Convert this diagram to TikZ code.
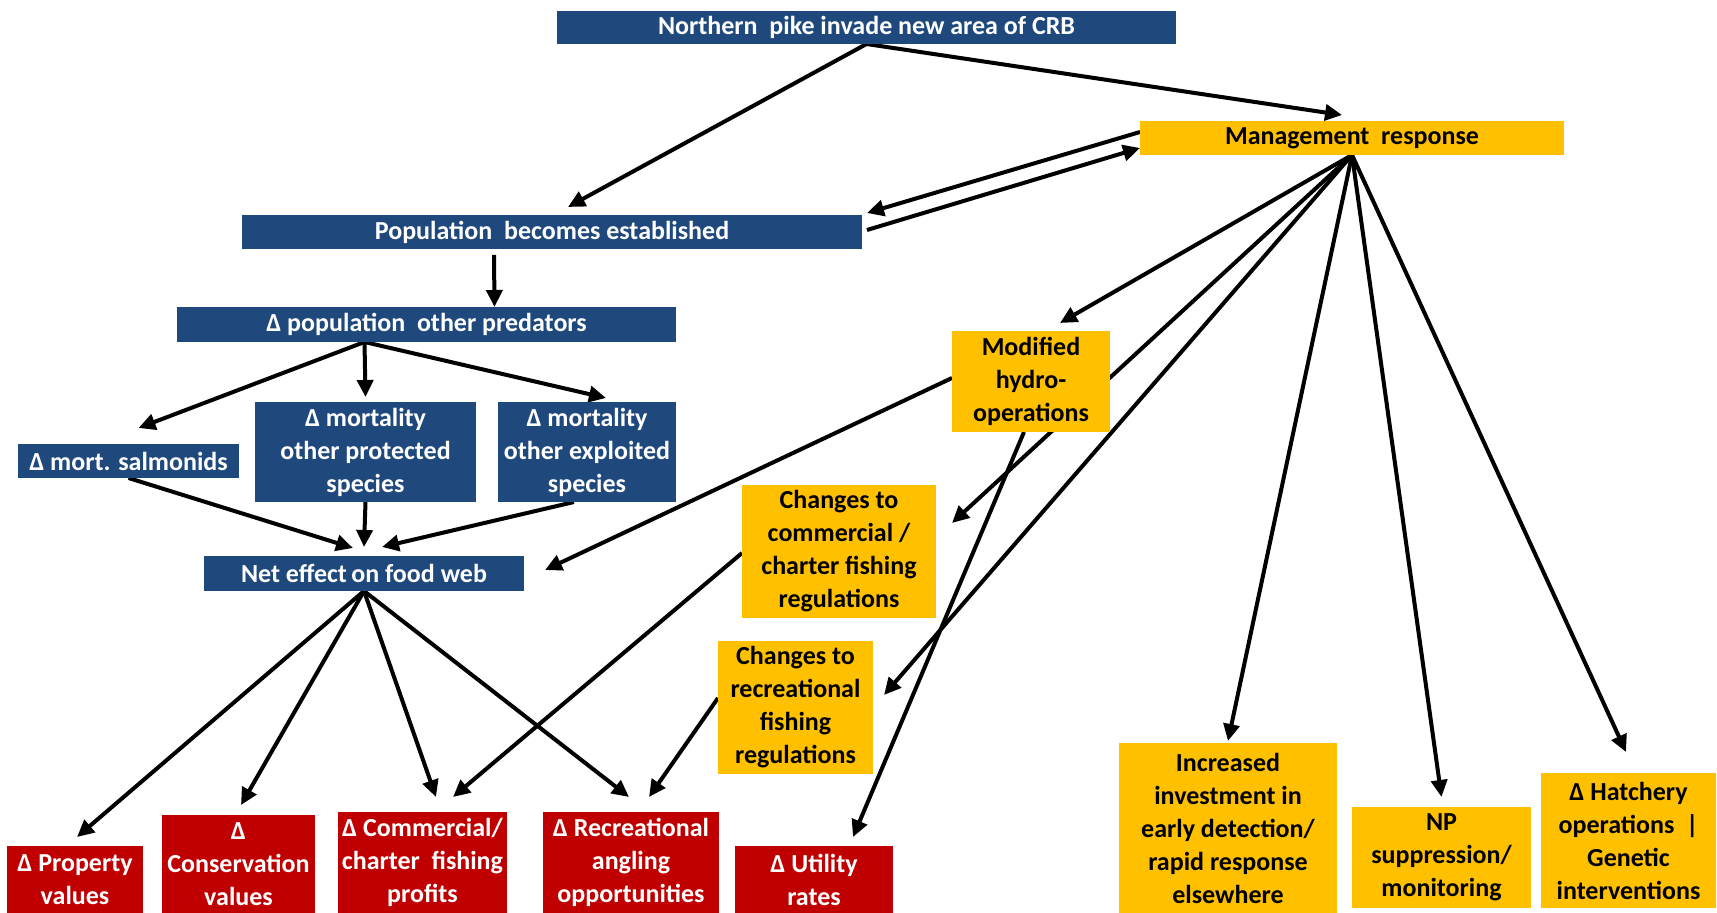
\documentclass[tikz,border=0pt]{standalone}
\usepackage{fontspec}
\setmainfont{Carlito}
\usetikzlibrary{arrows.meta,backgrounds}
\definecolor{pikeblue}{HTML}{1F497D}
\definecolor{mgmtgold}{HTML}{FFC000}
\definecolor{valuered}{HTML}{C00000}
\begin{document}
\begin{tikzpicture}[x=0.5pt, y=-0.5pt,
  every node/.style={inner sep=0pt, outer sep=0pt, align=center,
    font=\fontsize{13pt}{16.5pt}\selectfont\bfseries},
  bluebox/.style={fill=pikeblue, text=white},
  goldbox/.style={fill=mgmtgold, text=black},
  redbox/.style={fill=valuered, text=white},
  arr/.style={line width=2pt, -{Triangle[length=8.5pt,width=8pt]}}]
\useasboundingbox (0,0) rectangle (1717,913);

% Invasion chain (blue)
\node[bluebox, minimum width=309.5pt, minimum height=16.5pt] (pike) at (866.5,27.5) {Northern\ \ pike invade new area of CRB};
\node[bluebox, minimum width=310pt, minimum height=17pt] (estab) at (552,232) {Population\ \ becomes established};
\node[bluebox, minimum width=249.5pt, minimum height=17.5pt] (dpop) at (426.5,324.5) {Δ population\ \ other predators};
\node[bluebox, minimum width=110.5pt, minimum height=17pt] (salm) at (128.5,461) {Δ mort. salmonids};
\node[bluebox, minimum width=110.5pt, minimum height=50pt] (prot) at (365.5,452) {Δ mortality\\other protected\\species};
\node[bluebox, minimum width=89pt, minimum height=50pt] (expl) at (587,452) {Δ mortality\\other exploited\\species};
\node[bluebox, minimum width=160pt, minimum height=17.5pt] (food) at (364,573.5) {Net effect\,on food web};

% Management response (gold)
\node[goldbox, minimum width=212pt, minimum height=17pt] (mgmt) at (1352,138) {Management\ \ response};
\node[goldbox, minimum width=79pt, minimum height=50.5pt] (hydro) at (1031,381.5) {Modified\\hydro-\\operations};
\node[goldbox, minimum width=97pt, minimum height=66.5pt] (comm) at (839,551.5) {Changes to\\commercial /\\charter fishing\\regulations};
\node[goldbox, minimum width=77.5pt, minimum height=66.5pt] (recr) at (795.5,707.5) {Changes to\\recreational\\fishing\\regulations};
\node[goldbox, minimum width=109pt, minimum height=85pt] (inv) at (1228,828) {Increased\\investment in\\early detection/\\rapid response\\elsewhere};
\node[goldbox, minimum width=89.5pt, minimum height=50.5pt] (np) at (1441.5,857.5) {NP\\suppression/\\monitoring};
\node[goldbox, minimum width=87.5pt, minimum height=67.5pt] (hatch) at (1628.5,840.5) {Δ Hatchery\\operations\ \ |\\Genetic\\interventions};

% Values (red)
\node[redbox, minimum width=68pt, minimum height=33.5pt] (prop) at (75,879.5) {Δ Property\\values};
\node[redbox, minimum width=76.5pt, minimum height=49pt] (cons) at (238.5,864) {Δ\\Conservation\\values};
\node[redbox, minimum width=84.5pt, minimum height=50.5pt] (cprof) at (422.5,862.5) {Δ Commercial/\\charter\ \ fishing\\profits};
\node[redbox, minimum width=88pt, minimum height=50.5pt] (angl) at (631,862.5) {Δ Recreational\\angling\\opportunities};
\node[redbox, minimum width=79pt, minimum height=33.5pt] (util) at (814,879.5) {Δ Utility\\rates};

\begin{pgfonlayer}{background}
% Arrows from the invasion
\draw[arr] (pike.south) -- ([xshift=8pt,yshift=4pt]estab.north);
\draw[arr] (pike.south) -- ([xshift=-5pt,yshift=3pt]mgmt.north);
\draw[arr] ([yshift=3pt]mgmt.west) -- ([xshift=2.5pt,yshift=9.5pt]estab.east);
\draw[arr] ([xshift=2.5pt,yshift=1pt]estab.east) -- ([yshift=-5pt]mgmt.west);
\draw[arr] ([xshift=-29pt,yshift=-3pt]estab.south) -- ([xshift=34pt]dpop.north);
\draw[arr] ([xshift=-31pt]dpop.south) -- ([xshift=5pt,yshift=8pt]salm.north);
\draw[arr] ([xshift=-31pt]dpop.south) -- ([yshift=2.5pt]prot.north);
\draw[arr] ([xshift=-31pt]dpop.south) -- ([xshift=9.5pt,yshift=2pt]expl.north);
\draw[arr] (salm.south) -- ([xshift=-5.5pt,yshift=4pt]food.north);
\draw[arr] (prot.south) -- ([yshift=4.5pt]food.north);
\draw[arr] ([xshift=-6.5pt]expl.south) -- ([xshift=9pt,yshift=4.5pt]food.north);
\draw[arr] ([yshift=1.75pt]hydro.west) -- ([xshift=10.5pt,yshift=1.75pt]food.east);

% Management actions
\draw[arr] (mgmt.south) -- ([xshift=14.5pt,yshift=4pt]hydro.north);
\draw[arr] (mgmt.south) -- ([xshift=8pt,yshift=14.25pt]comm.east);
\draw[arr] (mgmt.south) -- ([xshift=5.5pt,yshift=6.25pt]recr.east);
\draw[arr] (mgmt.south) -- ([yshift=1pt]inv.north);
\draw[arr] (mgmt.south) -- ([yshift=5pt]np.north);
\draw[arr] (mgmt.south) -- ([xshift=-1.25pt,yshift=10.5pt]hatch.north);
\draw[arr] ([xshift=-3.5pt]hydro.south) -- ([xshift=19.5pt,yshift=4.5pt]util.north);

% Effects on values
\draw[arr] (food.south) -- ([xshift=1pt,yshift=4.5pt]prop.north);
\draw[arr] (food.south) -- ([xshift=1.25pt,yshift=5pt]cons.north);
\draw[arr] (food.south) -- ([xshift=6.75pt,yshift=7.5pt]cprof.north);
\draw[arr] (food.south) -- ([xshift=-1pt,yshift=7.5pt]angl.north);
\draw[arr] ([yshift=-0.75pt]comm.west) -- ([xshift=15.25pt,yshift=7.5pt]cprof.north);
\draw[arr] ([yshift=4.75pt]recr.west) -- ([xshift=9pt,yshift=7.5pt]angl.north);
\end{pgfonlayer}
\end{tikzpicture}
\end{document}
